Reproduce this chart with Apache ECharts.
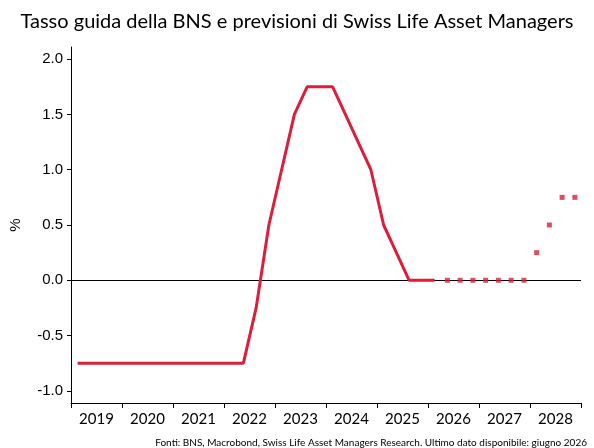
<!DOCTYPE html>
<html>
<head>
<meta charset="utf-8">
<script src="https://cdn.jsdelivr.net/npm/echarts@6/dist/echarts.min.js"></script>
<style>
  html, body { margin: 0; padding: 0; background: #fff; }
  #main { width: 594px; height: 448px; }
</style>
</head>
<body>
<div id="main"></div>
<script>
// SNB policy rate, quarterly points (decimal years)
const histDates = [
  2019.13, 2019.38, 2019.63, 2019.88,
  2020.13, 2020.38, 2020.63, 2020.88,
  2021.13, 2021.38, 2021.63, 2021.88,
  2022.13, 2022.38, 2022.63, 2022.88,
  2023.13, 2023.38, 2023.63, 2023.88,
  2024.13, 2024.38, 2024.63, 2024.88,
  2025.13, 2025.38, 2025.63, 2025.88,
  2026.13
]
const histValues = [
  -0.75, -0.75, -0.75, -0.75,
  -0.75, -0.75, -0.75, -0.75,
  -0.75, -0.75, -0.75, -0.75,
  -0.75, -0.75, -0.25, 0.5,
  1.0, 1.5, 1.75, 1.75,
  1.75, 1.5, 1.25, 1.0,
  0.5, 0.25, 0.0, 0.0,
  0.0
]
// Swiss Life Asset Managers forecast
const fcDates = [
  2026.38, 2026.63, 2026.88,
  2027.13, 2027.38, 2027.63, 2027.88,
  2028.13, 2028.38, 2028.63, 2028.88
]
const fcValues = [0, 0, 0, 0, 0, 0, 0, 0.25, 0.5, 0.75, 0.75]

const yearTicks = [2019, 2020, 2021, 2022, 2023, 2024, 2025, 2026, 2027, 2028, 2029]
const yearLabelPos = [2019.5, 2020.5, 2021.5, 2022.5, 2023.5, 2024.5, 2025.5, 2026.5, 2027.5, 2028.5]
const yTicks = [-1.0, -0.5, 0.0, 0.5, 1.0, 1.5, 2.0]

const red = '#db1e3a'
const font = 'Lato'

const chart = echarts.init(document.getElementById('main'))
const option = {
  animation: false,
  backgroundColor: '#fff',
  title: [
    {
      text: 'Tasso guida della BNS e previsioni di Swiss Life Asset Managers',
      left: 'center',
      top: 7,
      textStyle: { fontFamily: font, fontSize: 20, fontWeight: 'normal', color: '#000' }
    },
    {
      text: 'Fonti: BNS, Macrobond, Swiss Life Asset Managers Research. Ultimo dato disponibile: giugno 2026',
      right: 2,
      top: 433,
      textStyle: { fontFamily: font, fontSize: 10, fontWeight: 'normal', color: '#000' }
    }
  ],
  grid: { left: 67, right: 13, top: 47, bottom: 45 },
  xAxis: {
    type: 'value',
    min: 2019,
    max: 2029,
    interval: 1,
    splitLine: { show: false },
    axisLine: { onZero: false, lineStyle: { color: '#000', width: 1 } },
    axisTick: { show: true, length: 5, customValues: yearTicks, lineStyle: { color: '#000' } },
    axisLabel: {
      customValues: yearLabelPos,
      formatter: v => String(Math.floor(v)),
      color: '#000',
      fontFamily: font,
      fontSize: 15,
      margin: 9
    }
  },
  yAxis: {
    type: 'value',
    min: -1.11,
    max: 2.11,
    name: '%',
    nameLocation: 'middle',
    nameGap: 48,
    nameRotate: 90,
    nameTextStyle: { color: '#000', fontFamily: 'Liberation Sans', fontSize: 15 },
    splitLine: { show: false },
    axisLine: { show: true, onZero: false, lineStyle: { color: '#000', width: 1 } },
    axisTick: { show: true, length: 4, customValues: yTicks, lineStyle: { color: '#000' } },
    axisLabel: {
      customValues: yTicks,
      formatter: v => v.toFixed(1),
      color: '#000',
      fontFamily: 'Liberation Sans',
      fontSize: 15,
      margin: 8
    }
  },
  series: [
    {
      type: 'line',
      z: 1,
      data: [],
      markLine: {
        silent: true,
        symbol: 'none',
        label: { show: false },
        lineStyle: { color: '#000', width: 1, type: 'solid' },
        data: [{ yAxis: 0 }]
      }
    },
    {
      name: 'Tasso guida',
      type: 'line',
      z: 10,
      symbol: 'none',
      lineStyle: { color: red, width: 3 },
      itemStyle: { color: red },
      data: histDates.map((d, i) => [d, histValues[i]])
    },
    {
      name: 'Previsione',
      type: 'scatter',
      z: 10,
      symbol: 'rect',
      symbolSize: 5,
      itemStyle: { color: red },
      data: fcDates.map((d, i) => [d, fcValues[i]])
    }
  ]
}
chart.setOption(option)
</script>
</body>
</html>
